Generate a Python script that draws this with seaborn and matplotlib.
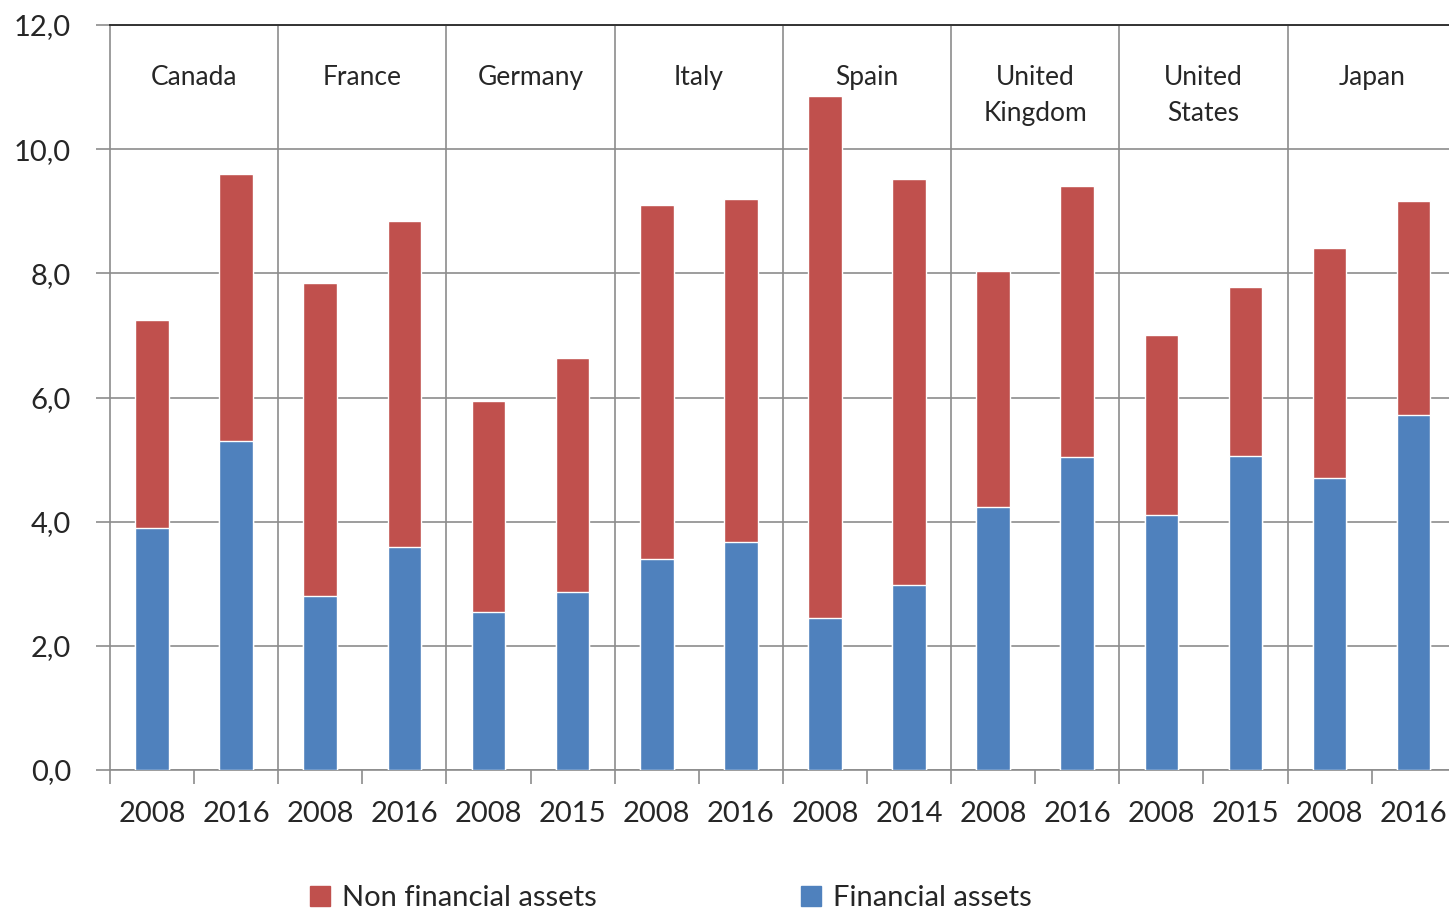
import pandas as pd
import matplotlib.pyplot as plt
import seaborn as sns
from matplotlib.patches import Patch

# data
countries = ["Canada", "France", "Germany", "Italy", "Spain",
             "United\nKingdom", "United\nStates", "Japan"]
years = ["2008", "2016", "2008", "2016", "2008", "2015", "2008", "2016",
         "2008", "2014", "2008", "2016", "2008", "2015", "2008", "2016"]
total_assets = [7.25, 9.60, 7.84, 8.84, 5.94, 6.64, 9.10, 9.20,
                10.86, 9.52, 8.04, 9.41, 7.01, 7.78, 8.41, 9.17]
financial_assets = [3.90, 5.30, 2.80, 3.59, 2.55, 2.87, 3.40, 3.67,
                    2.45, 2.98, 4.24, 5.04, 4.11, 5.06, 4.70, 5.72]

red = "#C0504D"
blue = "#4F81BD"
grid_col = "#8C8C8C"

slots = [f"{countries[i // 2]} {years[i]}" for i in range(len(years))]
df = pd.DataFrame({"slot": slots, "total": total_assets,
                   "financial": financial_assets})

sns.set_style("white")
plt.rcParams["font.family"] = ["Lato", "DejaVu Sans"]

fig = plt.figure(figsize=(14.49, 9.09), dpi=100)
ax = fig.add_axes([0.0759, 0.1529, 0.9241, 0.8196])

# stacked look: total (red) behind, financial part (blue) in front
sns.barplot(data=df, x="slot", y="total", order=slots, color=red,
            width=0.4, saturation=1, ax=ax, zorder=3)
sns.barplot(data=df, x="slot", y="financial", order=slots, color=blue,
            width=0.4, saturation=1, ax=ax, zorder=4)

ax.set_xlabel("")
ax.set_ylabel("")

# y axis
ax.set_yticks(range(0, 13, 2))
ax.set_yticklabels([f"{v},0" for v in range(0, 13, 2)], fontsize=21)
ax.yaxis.grid(True, color=grid_col, linewidth=1.2, zorder=0)
ax.tick_params(axis="y", length=10, color=grid_col, width=1.2, pad=18, left=True)

# x axis: year labels at bars, ticks between bars
ax.set_xticks(range(len(years)))
ax.set_xticklabels(years, fontsize=21)
ax.set_xticks([i - 0.5 for i in range(len(years))], minor=True)
ax.tick_params(axis="x", which="major", length=0, pad=22)
ax.tick_params(axis="x", which="minor", length=10, color=grid_col, width=1.2,
               bottom=True)

ax.set_xlim(-0.5, 15.42)
ax.set_ylim(0, 12)

# group separators
for g in range(1, len(countries)):
    ax.axvline(2 * g - 0.5, color=grid_col, linewidth=1.2, zorder=1)

for g, name in enumerate(countries):
    ax.text(2 * g + 0.5, 11.36, name, ha="center", va="top", fontsize=19,
            linespacing=1.55, zorder=5)

ax.spines["right"].set_visible(False)
ax.spines["left"].set_color(grid_col)
ax.spines["left"].set_linewidth(1.2)
ax.spines["bottom"].set_color(grid_col)
ax.spines["bottom"].set_linewidth(1.2)
ax.spines["top"].set_color("#333333")
ax.spines["top"].set_linewidth(1.4)

handles = [Patch(color=red, label="Non financial assets"),
           Patch(color=blue, label="Financial assets")]
fig.legend(handles=handles, loc="center", bbox_to_anchor=(0.463, 0.012),
           ncol=2, frameon=False, fontsize=21, handlelength=0.7,
           handleheight=0.7, handletextpad=0.4, columnspacing=7)

plt.savefig("out.png", dpi=100)
plt.close()
